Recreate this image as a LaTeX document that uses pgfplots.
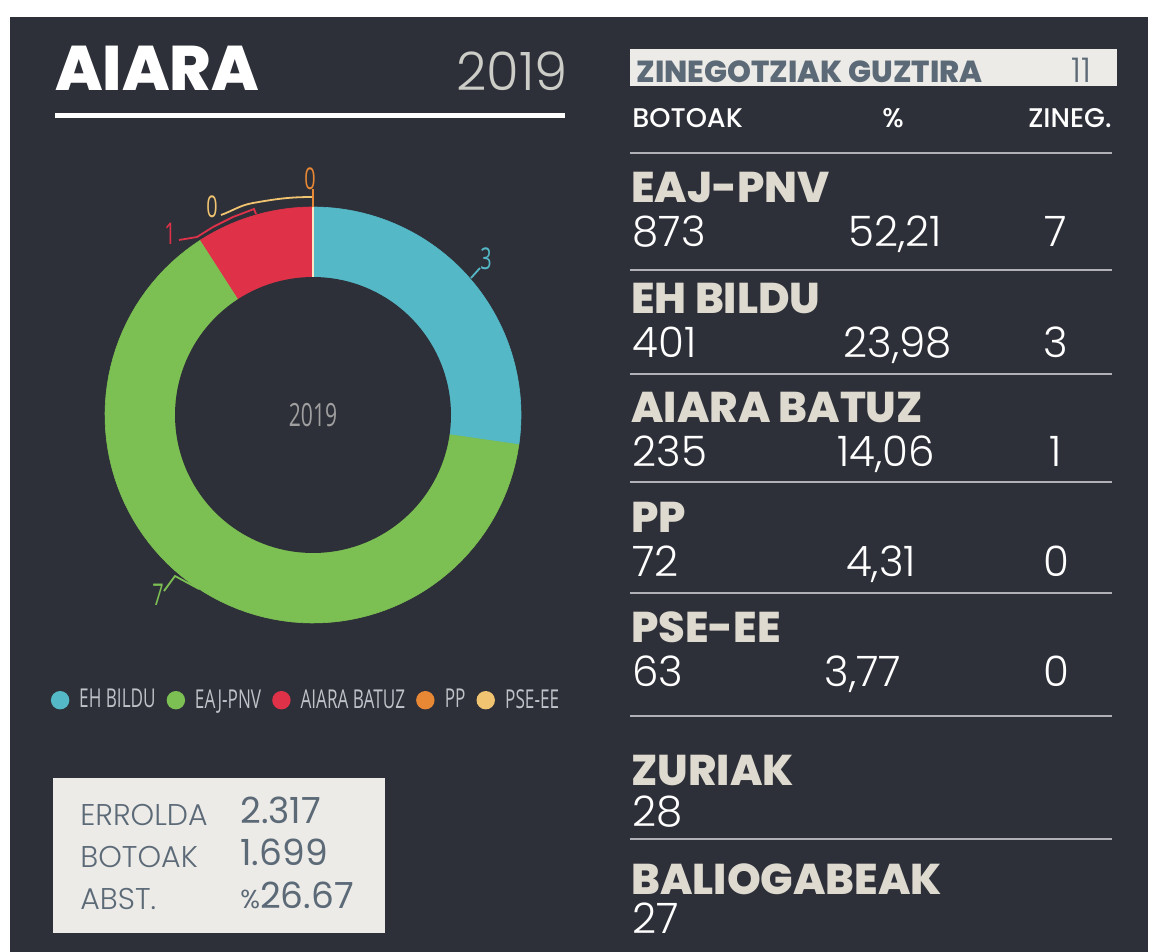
\documentclass[border=0pt]{standalone}
\usepackage{fontspec}
\usepackage{pgfplots}
\pgfplotsset{compat=1.18}
\setmainfont{Poppins}
\newfontfamily\poplight{Poppins Light}
\newfontfamily\popheavy{Poppins ExtraBold}
\newfontfamily\popmed{Poppins Medium}
\newfontfamily\cond{Open Sans}[FakeStretch=0.66]

\definecolor{bg}{RGB}{46,48,57}
\definecolor{panel}{RGB}{236,235,231}
\definecolor{cbildu}{RGB}{84,184,199}
\definecolor{cpnv}{RGB}{124,191,82}
\definecolor{cbatuz}{RGB}{223,50,73}
\definecolor{cpp}{RGB}{232,136,52}
\definecolor{cpse}{RGB}{240,196,112}
\definecolor{namec}{RGB}{222,218,208}
\definecolor{rulec}{RGB}{175,177,182}
\definecolor{boxtxt}{RGB}{92,106,120}
\definecolor{legtxt}{RGB}{190,195,200}
\definecolor{yeartxt}{RGB}{205,205,200}

% one seat out of 11 = 360/11 degrees, clockwise from the top
\newcommand{\sector}[3]{% #1 seats before, #2 seats, #3 colour
  \pgfmathsetmacro\sa{90-#1*360/11}%
  \pgfmathsetmacro\sb{90-(#1+#2)*360/11}%
  \ifnum#2=0
    \pgfmathsetmacro\xa{208*cos(\sa)}%
    \pgfmathsetmacro\ya{208*sin(\sa)}%
    \edef\doit{\noexpand\addplot[fill=#3, draw=#3!40!white, line width=0.7pt] coordinates {(0,0) (\xa,\ya)};}%
    \doit
  \else
    \edef\doit{\noexpand\addplot[fill=#3, draw=#3, line width=0.3pt, domain=\sb:\sa, samples=90]}%
    \doit ({208*cos(x)},{208*sin(x)}) -- (axis cs:0,0) -- cycle;
  \fi
}

% party rows: name baseline, name, votes, pct, pct centre x, seats
\newcommand{\row}[6]{%
  \node[anchor=base west, inner sep=0, text=namec, font=\popheavy\fontsize{21.5}{22}\selectfont] at (631,#1) {#2};
  \node[anchor=base west, inner sep=0, text=white, font=\poplight\fontsize{21}{22}\selectfont] at (632,#1+44) {#3};
  \node[anchor=base, inner sep=0, text=white, font=\poplight\fontsize{21}{22}\selectfont] at (#5,#1+44) {#4};
  \node[anchor=base, inner sep=0, text=white, font=\poplight\fontsize{21}{22}\selectfont] at (1056,#1+44) {#6};
}

\begin{document}
\begin{tikzpicture}[x=0.5pt,y=-0.5pt]
\useasboundingbox (0,0) rectangle (1161,952);
\fill[white] (0,0) rectangle (1161,952);
\fill[bg] (10,17) rectangle (1148,952);
\coordinate (donut) at (313,415);

% title
\node[anchor=base west, inner sep=0, text=white, font=\popheavy\fontsize{31.5}{32}\selectfont] at (55,91) {AIARA};
\node[anchor=base east, inner sep=0, text=yeartxt, font=\poplight\fontsize{26.5}{30}\selectfont] at (568,91) {2019};
\fill[white] (55,113) rectangle (565,118);

% donut of seats
\begin{axis}[
  at={(donut)}, anchor=origin,
  width=230pt, height=230pt, scale only axis,
  xmin=-230, xmax=230, ymin=-230, ymax=230,
  hide axis, clip=false,
  legend columns=5,
  legend cell align=left,
  legend image code/.code={\fill[#1, draw=none] (4.6pt,0) circle (4.6pt); \path (12pt,0);},
  legend style={draw=none, fill=none, text=legtxt,
    font=\cond\fontsize{13}{14}\selectfont,
    at={(0.487,-0.12)}, anchor=center,
    /tikz/every even column/.append style={column sep=3.5pt}},
]
\sector{0}{3}{cbildu}
\sector{3}{7}{cpnv}
\sector{10}{1}{cbatuz}
\sector{11}{0}{cpp}
\sector{11}{0}{cpse}
\addplot[fill=bg, draw=none, domain=0:360, samples=150, forget plot] ({138*cos(x)},{138*sin(x)});
\legend{EH BILDU, EAJ-PNV, AIARA BATUZ, PP, PSE-EE}

\node[text=gray!75!white, font=\cond\fontsize{16}{17}\selectfont] at (axis cs:0,0) {2019};

% leader lines and seat labels
\draw[cbildu, line width=0.9pt] (158,137) -- (167,147);
\node[text=cbildu, font=\cond\fontsize{15}{16}\selectfont] at (173,156) {3};
\draw[cpnv, line width=0.9pt] (-114,-174) -- (-138,-161) -- (-149,-176);
\node[text=cpnv, font=\cond\fontsize{15}{16}\selectfont] at (-155,-180) {7};
\draw[cbatuz, line width=0.9pt] (-57,201) -- (-59,206) -- (-80,198) -- (-100,188) -- (-116,178) -- (-134,175);
\node[text=cbatuz, font=\cond\fontsize{15}{16}\selectfont] at (-143,181) {1};
\draw[cpse, line width=0.9pt] (0,208) -- (0,218) to[out=180,in=10] (-60,212) to[out=190,in=20] (-92,200);
\node[text=cpse, font=\cond\fontsize{15}{16}\selectfont] at (-101,208) {0};
\draw[cpp, line width=0.9pt] (0,208) -- (0,226);
\node[text=cpp, font=\cond\fontsize{15}{16}\selectfont] at (-3,236) {0};
\end{axis}

% stats box
\fill[panel] (53,778) rectangle (385,933);
\node[anchor=base west, inner sep=0, text=boxtxt, font=\poplight\fontsize{15}{16}\selectfont] at (80,825) {ERROLDA};
\node[anchor=base west, inner sep=0, text=boxtxt, font=\poplight\fontsize{15}{16}\selectfont] at (80,867) {BOTOAK};
\node[anchor=base west, inner sep=0, text=boxtxt, font=\poplight\fontsize{15}{16}\selectfont] at (80,909) {ABST.};
\node[anchor=base west, inner sep=0, text=boxtxt, font=\fontsize{18}{20}\selectfont] at (240,823) {2.317};
\node[anchor=base west, inner sep=0, text=boxtxt, font=\fontsize{18}{20}\selectfont] at (240,865) {1.699};
\node[anchor=base west, inner sep=0, text=boxtxt, font=\fontsize{18}{20}\selectfont] at (240,908) {{\fontsize{13}{14}\selectfont\%}26.67};

% right hand table
\fill[panel] (630,49) rectangle (1117,86);
\node[anchor=base west, inner sep=0, text=boxtxt, font=\popheavy\fontsize{15.2}{18}\selectfont] at (636,83) {ZINEGOTZIAK GUZTIRA};
\node[anchor=base east, inner sep=0, text=boxtxt, font=\poplight\fontsize{17}{18}\selectfont] at (1092,83) {11};
\node[anchor=base west, inner sep=0, text=white, font=\popmed\fontsize{13.5}{14}\selectfont] at (632,128) {BOTOAK};
\node[anchor=base, inner sep=0, text=white, font=\popmed\fontsize{13.5}{14}\selectfont] at (893,128) {\%};
\node[anchor=base east, inner sep=0, text=white, font=\popmed\fontsize{13.5}{14}\selectfont] at (1112,128) {ZINEG.};
\foreach \y in {153,270,374,482,593,716,839}
  \draw[rulec, line width=1pt] (630,\y) -- (1112,\y);

\row{203}{EAJ-PNV}{873}{52,21}{895}{7}
\row{313}{EH BILDU}{401}{23,98}{898}{3}
\row{422}{AIARA BATUZ}{235}{14,06}{886}{1}
\row{532}{PP}{72}{4,31}{881}{0}
\row{642}{PSE-EE}{63}{3,77}{863}{0}

\node[anchor=base west, inner sep=0, text=namec, font=\popheavy\fontsize{21.5}{22}\selectfont] at (631,785) {ZURIAK};
\node[anchor=base west, inner sep=0, text=white, font=\poplight\fontsize{21}{22}\selectfont] at (632,826) {28};
\node[anchor=base west, inner sep=0, text=namec, font=\popheavy\fontsize{21.5}{22}\selectfont] at (631,894) {BALIOGABEAK};
\node[anchor=base west, inner sep=0, text=white, font=\poplight\fontsize{21}{22}\selectfont] at (632,933) {27};
\end{tikzpicture}
\end{document}
